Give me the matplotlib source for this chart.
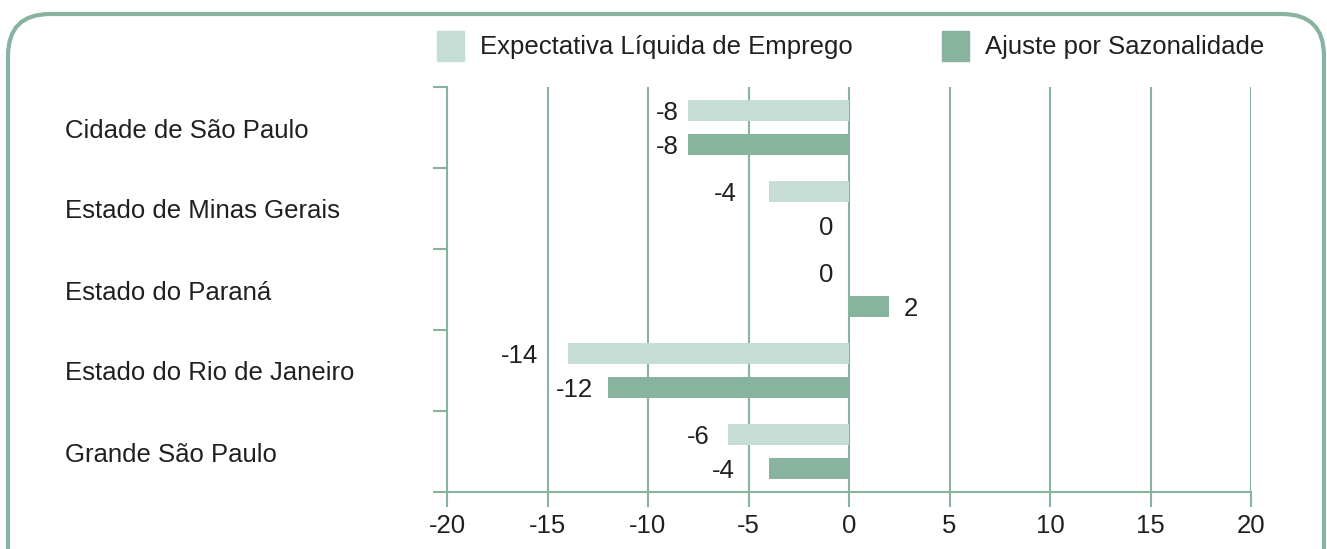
import numpy as np
import matplotlib.pyplot as plt
from matplotlib.patches import FancyBboxPatch, Rectangle
from matplotlib.transforms import IdentityTransform, ScaledTranslation

plt.rcParams['font.family'] = ['Liberation Sans', 'DejaVu Sans']

regioes = ['Cidade de São Paulo', 'Estado de Minas Gerais', 'Estado do Paraná',
           'Estado do Rio de Janeiro', 'Grande São Paulo']
expectativa = [-8, -4, 0, -14, -6]
ajuste = [-8, 0, 2, -12, -4]
series_nomes = ['Expectativa Líquida de Emprego', 'Ajuste por Sazonalidade']
xticks = [-20, -15, -10, -5, 0, 5, 10, 15, 20]

# distância (px) entre o fim da barra e o rótulo, como no original
gap_expectativa = [9, 32, 16, 29, 19]
gap_ajuste = [9, 16, 15, 15, 34]

claro = '#c5ddd4'
escuro = '#88b39e'
texto = '#231f20'
fs = 18.5

W, H = 1327, 549
fig = plt.figure(figsize=(W / 100, H / 100), dpi=100)
ax = fig.add_axes([447 / W, 1 - 492 / H, 804 / W, 405 / H])

y = np.arange(len(regioes))
h = 0.27
off = 0.21
ax.barh(y - off, expectativa, height=h, color=claro, zorder=3)
ax.barh(y + off, ajuste, height=h, color=escuro, zorder=3)

# rótulos de valor
for serie, gaps, dy in ((expectativa, gap_expectativa, -off), (ajuste, gap_ajuste, off)):
    for yi, v, g in zip(y, serie, gaps):
        g = g * 0.72
        if v <= 0:
            ax.annotate(str(v), (v, yi + dy), xytext=(-g, -2), textcoords='offset points',
                        ha='right', va='center', fontsize=fs, color=texto)
        else:
            ax.annotate(str(v), (v, yi + dy), xytext=(g, -2), textcoords='offset points',
                        ha='left', va='center', fontsize=fs, color=texto)

ax.set_xlim(-20, 20)
ax.set_ylim(len(regioes) - 0.5, -0.5)
ax.set_xticks(xticks)
ax.set_xticklabels([str(t) for t in xticks], fontsize=fs, color=texto)
ax.set_yticks(np.arange(len(regioes) + 1) - 0.5)
ax.set_yticklabels([])
ax.tick_params(axis='x', length=11, width=1.5, color=escuro, pad=5)
ax.tick_params(axis='y', length=10, width=1.5, color=escuro)
ax.grid(axis='x', color=escuro, linewidth=1.5, zorder=1)
for s in ('top', 'right'):
    ax.spines[s].set_visible(False)
for s in ('left', 'bottom'):
    ax.spines[s].set_color(escuro)
    ax.spines[s].set_linewidth(1.5)

# nomes das regiões
for yi, nome in zip(y, regioes):
    _, yf = fig.transFigure.inverted().transform(ax.transData.transform((0, yi)))
    fig.text(65 / W, yf - 3 / H, nome, ha='left', va='center', fontsize=fs, color=texto)

# legenda
for x0, xt, cor, nome in ((437, 480, claro, series_nomes[0]), (942, 985, escuro, series_nomes[1])):
    fig.patches.append(Rectangle((x0 / W, 1 - 61 / H), 27 / W, 30 / H,
                                 transform=fig.transFigure, color=cor))
    fig.text(xt / W, 1 - 47 / H, nome, ha='left', va='center', fontsize=fs, color=texto)

# moldura arredondada (em pixels)
fig.patches.append(FancyBboxPatch((8, -60), 1316, H - 14 + 60,
                                  boxstyle='round,pad=0,rounding_size=42',
                                  transform=IdentityTransform(), fill=False,
                                  edgecolor=escuro, linewidth=3))

fig.savefig('out.png', dpi=100)
